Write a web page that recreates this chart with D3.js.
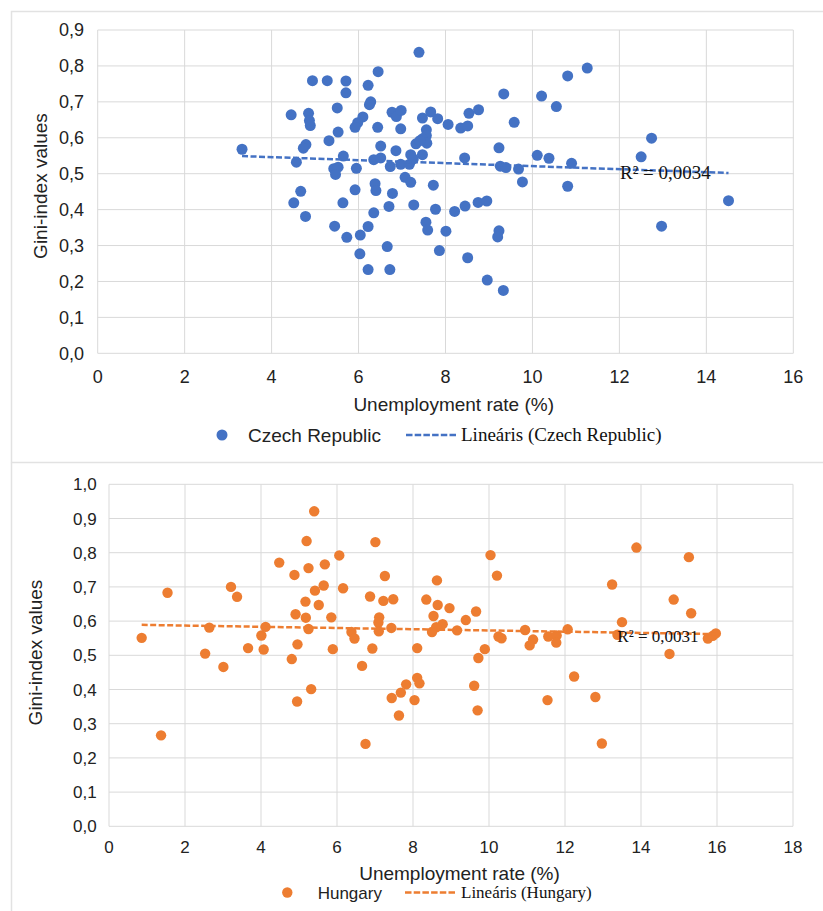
<!DOCTYPE html>
<html>
<head>
<meta charset="utf-8">
<script src="https://cdn.jsdelivr.net/npm/d3@7"></script>
<style>
	body { margin: 0; background: #fff; }
	svg { display: block; }
</style>
</head>
<body>
<div id="chart"></div>
<script>
// Czech Republic: [unemployment rate, gini]
const czechPoints = [
	[3.32, 0.568], [4.94, 0.759], [5.28, 0.759], [5.71, 0.758], [5.71, 0.725], [6.22, 0.746], [6.45, 0.784],
	[6.28, 0.700], [6.25, 0.692], [4.45, 0.664], [4.85, 0.668], [4.87, 0.648], [4.89, 0.634],
	[5.51, 0.683], [6.10, 0.658], [5.98, 0.642], [5.92, 0.629], [6.44, 0.629],
	[6.77, 0.671], [6.87, 0.659], [6.98, 0.676],
	[5.53, 0.616], [5.32, 0.592], [4.79, 0.581], [4.73, 0.571], [4.57, 0.532], [5.65, 0.549],
	[5.43, 0.514], [5.53, 0.518], [5.47, 0.498], [5.95, 0.515], [6.51, 0.577], [6.35, 0.539], [6.51, 0.544],
	[6.73, 0.520], [6.86, 0.564],
	[4.67, 0.451], [4.51, 0.419], [4.78, 0.381], [5.92, 0.455], [5.64, 0.419], [6.38, 0.472], [6.40, 0.453],
	[6.78, 0.445], [6.70, 0.409], [6.35, 0.391], [5.45, 0.354], [6.22, 0.353], [5.73, 0.323], [6.04, 0.329],
	[6.03, 0.277], [6.66, 0.297], [6.22, 0.233], [6.72, 0.233],
	[7.39, 0.838], [9.34, 0.722], [10.21, 0.716], [10.55, 0.687], [10.81, 0.772], [11.26, 0.794],
	[7.47, 0.655], [7.66, 0.672], [7.82, 0.653], [8.06, 0.637], [8.54, 0.668], [8.76, 0.678], [8.35, 0.627],
	[8.51, 0.633], [9.58, 0.643],
	[6.97, 0.625], [7.56, 0.622], [7.56, 0.606], [7.47, 0.597], [7.57, 0.585], [7.32, 0.583], [7.41, 0.592],
	[7.20, 0.553], [7.47, 0.553], [6.97, 0.526], [7.17, 0.526], [7.26, 0.541], [8.44, 0.544], [9.23, 0.572],
	[9.26, 0.521], [9.39, 0.517], [9.68, 0.513], [9.77, 0.477], [10.11, 0.551], [10.38, 0.543],
	[7.07, 0.490], [7.20, 0.476], [7.72, 0.468], [7.27, 0.413], [7.77, 0.401], [8.21, 0.395], [8.45, 0.410],
	[8.75, 0.420], [8.95, 0.424], [7.55, 0.365], [7.59, 0.343], [8.01, 0.340], [9.23, 0.341], [9.20, 0.324],
	[7.86, 0.286], [8.51, 0.266], [8.96, 0.204], [9.33, 0.175],
	[12.74, 0.599], [12.50, 0.547], [10.90, 0.529], [10.81, 0.465], [14.51, 0.425], [12.97, 0.354],
];
const czechTrend = [[3.32, 0.549], [14.51, 0.502]];
const czechR2 = "R² = 0,0034";

// Hungary
const hungaryPoints = [
	[0.86, 0.551], [1.54, 0.683], [1.37, 0.266], [2.53, 0.505], [2.64, 0.581], [3.01, 0.466], [3.21, 0.700],
	[3.37, 0.671], [3.66, 0.521], [4.01, 0.558], [4.12, 0.583], [4.07, 0.517], [4.48, 0.771], [4.88, 0.735],
	[4.91, 0.620], [4.96, 0.532], [4.81, 0.489], [4.95, 0.365],
	[5.40, 0.921], [5.20, 0.834], [7.01, 0.831], [6.06, 0.792], [5.25, 0.755], [5.68, 0.766], [7.26, 0.732],
	[8.63, 0.719], [5.42, 0.689], [5.65, 0.704], [6.16, 0.696], [5.17, 0.657], [5.52, 0.647], [6.87, 0.672],
	[7.22, 0.659], [7.48, 0.664], [8.35, 0.663], [8.65, 0.647], [8.96, 0.638], [9.66, 0.628], [5.18, 0.610],
	[5.85, 0.611], [7.11, 0.611], [7.09, 0.596], [7.10, 0.570], [7.43, 0.580], [8.54, 0.615], [8.78, 0.591],
	[8.61, 0.582], [8.50, 0.568], [9.16, 0.573], [9.39, 0.603], [5.25, 0.577], [6.38, 0.568], [6.46, 0.549],
	[5.89, 0.518], [6.93, 0.520], [8.11, 0.521], [6.66, 0.469], [5.32, 0.401], [7.82, 0.415], [7.68, 0.391],
	[7.44, 0.375], [8.11, 0.434], [8.17, 0.418], [8.04, 0.369], [7.63, 0.324], [9.61, 0.411], [9.70, 0.339],
	[9.72, 0.492], [6.75, 0.241],
	[10.04, 0.793], [10.21, 0.733], [9.89, 0.518], [10.25, 0.555], [10.33, 0.550], [10.95, 0.574],
	[11.16, 0.546], [11.07, 0.529], [11.56, 0.555], [11.78, 0.558], [11.77, 0.537], [12.07, 0.576],
	[12.24, 0.438], [11.54, 0.369], [12.80, 0.378], [12.97, 0.242],
	[13.24, 0.707], [13.50, 0.597], [13.88, 0.815], [13.38, 0.560],
	[15.26, 0.787], [14.86, 0.663], [15.32, 0.623], [14.75, 0.504], [15.76, 0.549], [15.89, 0.557], [15.97, 0.564],
];
const hungaryTrend = [[0.86, 0.589], [15.97, 0.562]];
const hungaryR2 = "R² = 0,0031";

const czechXTicks = [0, 2, 4, 6, 8, 10, 12, 14, 16];
const czechYTicks = [0, 0.1, 0.2, 0.3, 0.4, 0.5, 0.6, 0.7, 0.8, 0.9];
const hungaryXTicks = [0, 2, 4, 6, 8, 10, 12, 14, 16, 18];
const hungaryYTicks = [0, 0.1, 0.2, 0.3, 0.4, 0.5, 0.6, 0.7, 0.8, 0.9, 1.0];

const width = 823;
const height = 911;
const gridColor = "#d9d9d9";
const sans = "Arial, 'Liberation Sans', sans-serif";
const serif = "'Times New Roman', 'Liberation Serif', serif";

const svg = d3
	.select("#chart")
	.append("svg")
	.attr("width", width)
	.attr("height", height);

svg.append("rect").attr("width", width).attr("height", height).attr("fill", "#fff");

// chart frames
svg
	.append("path")
	.attr("d", `M${width},11.5 H11.5 V462.5 H${width}`)
	.attr("fill", "none")
	.attr("stroke", "#e2e2e2")
	.attr("stroke-width", 1.5);
svg
	.append("path")
	.attr("d", `M11.5,${height} V462.5`)
	.attr("fill", "none")
	.attr("stroke", "#e2e2e2")
	.attr("stroke-width", 1.5);

const commaFormat = (d) => d3.format(".1f")(d).replace(".", ",");

const drawPanel = (cfg) => {
	const x = d3.scaleLinear([cfg.xTicks[0], cfg.xTicks[cfg.xTicks.length - 1]], cfg.xRange);
	const y = d3.scaleLinear([cfg.yTicks[0], cfg.yTicks[cfg.yTicks.length - 1]], cfg.yRange);
	const g = svg.append("g");

	// gridlines
	g.selectAll(".vgrid")
		.data(cfg.xTicks)
		.join("line")
		.attr("x1", (d) => x(d))
		.attr("x2", (d) => x(d))
		.attr("y1", cfg.yRange[0])
		.attr("y2", cfg.yRange[1])
		.attr("stroke", gridColor)
		.attr("stroke-width", 1);
	g.selectAll(".hgrid")
		.data(cfg.yTicks)
		.join("line")
		.attr("x1", cfg.xRange[0])
		.attr("x2", cfg.xRange[1])
		.attr("y1", (d) => y(d))
		.attr("y2", (d) => y(d))
		.attr("stroke", gridColor)
		.attr("stroke-width", 1);

	// tick labels
	g.append("g")
		.selectAll("text")
		.data(cfg.yTicks)
		.join("text")
		.attr("x", cfg.yLabelX)
		.attr("y", (d) => y(d))
		.attr("dy", "0.36em")
		.attr("text-anchor", "end")
		.attr("font-family", sans)
		.attr("font-size", cfg.tickSize)
		.attr("fill", "#222")
		.text(commaFormat);
	g.append("g")
		.selectAll("text")
		.data(cfg.xTicks)
		.join("text")
		.attr("x", (d) => x(d))
		.attr("y", cfg.xLabelY)
		.attr("text-anchor", "middle")
		.attr("font-family", sans)
		.attr("font-size", cfg.tickSize)
		.attr("fill", "#222")
		.text((d) => d);

	// axis titles
	g.append("text")
		.attr("x", cfg.xTitle[0])
		.attr("y", cfg.xTitle[1])
		.attr("text-anchor", "middle")
		.attr("font-family", sans)
		.attr("font-size", 19)
		.attr("fill", "#222")
		.text("Unemployment rate (%)");
	g.append("text")
		.attr("transform", `translate(${cfg.yTitle[0]},${cfg.yTitle[1]}) rotate(-90)`)
		.attr("dy", "0.36em")
		.attr("text-anchor", "middle")
		.attr("font-family", sans)
		.attr("font-size", 19)
		.attr("fill", "#222")
		.text("Gini-index values");

	// points
	g.append("g")
		.selectAll("circle")
		.data(cfg.points)
		.join("circle")
		.attr("cx", (d) => x(d[0]))
		.attr("cy", (d) => y(d[1]))
		.attr("r", cfg.radius)
		.attr("fill", cfg.color);

	// linear trend
	g.append("path")
		.datum(cfg.trend)
		.attr("d", d3.line((d) => x(d[0]), (d) => y(d[1])))
		.attr("fill", "none")
		.attr("stroke", cfg.color)
		.attr("stroke-width", 2.5)
		.attr("stroke-dasharray", "6,2.5");

	g.append("text")
		.attr("x", cfg.r2Pos[0])
		.attr("y", cfg.r2Pos[1])
		.attr("font-family", serif)
		.attr("font-size", cfg.r2Size)
		.attr("fill", "#111")
		.text(cfg.r2);

	// legend
	const lg = g.append("g");
	lg.append("circle")
		.attr("cx", cfg.legend.dot)
		.attr("cy", cfg.legend.y)
		.attr("r", cfg.radius)
		.attr("fill", cfg.color);
	lg.append("text")
		.attr("x", cfg.legend.label)
		.attr("y", cfg.legend.y)
		.attr("dy", "0.36em")
		.attr("font-family", sans)
		.attr("font-size", cfg.legend.size)
		.attr("fill", "#222")
		.text(cfg.name);
	lg.append("line")
		.attr("x1", cfg.legend.dash[0])
		.attr("x2", cfg.legend.dash[1])
		.attr("y1", cfg.legend.y)
		.attr("y2", cfg.legend.y)
		.attr("stroke", cfg.color)
		.attr("stroke-width", 2.5)
		.attr("stroke-dasharray", "6.5,2.2");
	lg.append("text")
		.attr("x", cfg.legend.dash[1] + 4)
		.attr("y", cfg.legend.y)
		.attr("dy", "0.33em")
		.attr("font-family", serif)
		.attr("font-size", cfg.legend.size)
		.attr("fill", "#111")
		.text(`Lineáris (${cfg.name})`);
};

drawPanel({
	name: "Czech Republic",
	points: czechPoints,
	trend: czechTrend,
	r2: czechR2,
	color: "#4472c4",
	xTicks: czechXTicks,
	yTicks: czechYTicks,
	xRange: [97.7, 793.3],
	yRange: [353.3, 30],
	radius: 5.5,
	tickSize: 18,
	yLabelX: 84,
	xLabelY: 382.5,
	xTitle: [453.7, 410.7],
	yTitle: [40, 186],
	r2Pos: [620, 179],
	r2Size: 19,
	legend: { y: 435, dot: 222, label: 248, dash: [406, 457], size: 19 },
});

drawPanel({
	name: "Hungary",
	points: hungaryPoints,
	trend: hungaryTrend,
	r2: hungaryR2,
	color: "#ed7d31",
	xTicks: hungaryXTicks,
	yTicks: hungaryYTicks,
	xRange: [109, 793],
	yRange: [826.3, 484.3],
	radius: 5.2,
	tickSize: 17,
	yLabelX: 96.7,
	xLabelY: 852.7,
	xTitle: [459.5, 879.5],
	yTitle: [35.5, 652.5],
	r2Pos: [617.3, 641.7],
	r2Size: 17,
	legend: { y: 892.5, dot: 287.3, label: 317.7, dash: [405, 457], size: 17 },
});
</script>
</body>
</html>
